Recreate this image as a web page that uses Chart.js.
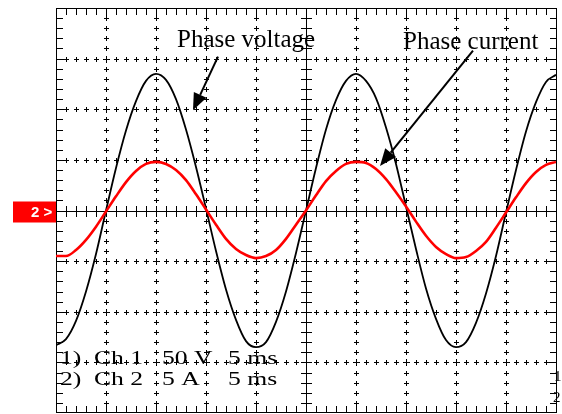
<!DOCTYPE html>
<html>
<head>
<meta charset="utf-8">
<script src="https://cdn.jsdelivr.net/npm/chart.js@4.4.1/dist/chart.umd.min.js"></script>
<style>
  html, body { margin: 0; padding: 0; background: #fff; }
  #scope { display: block; }
</style>
</head>
<body>
<canvas id="scope" width="562" height="414"></canvas>
<script>
// time base: 5 ms / div, 10 div on screen
const timeMs = [0, 1, 2, 3, 4, 5, 6, 7, 8, 9, 10, 11, 12, 13, 14, 15, 16, 17, 18, 19, 20,
    21, 22, 23, 24, 25, 26, 27, 28, 29, 30, 31, 32, 33, 34, 35, 36, 37, 38, 39, 40,
    41, 42, 43, 44, 45, 46, 47, 48, 49, 50];

// Ch 1 - phase voltage (50 V / div)
const phaseVoltage = [-133, -127, -109, -80, -43, 0, 42, 79, 108, 128, 135,
    129, 110, 80, 43, 2, -40, -78, -108, -129, -135,
    -130, -110, -80, -42, 0, 42, 80, 109, 128, 135,
    128, 111, 82, 46, 4, -38, -77, -107, -128, -135,
    -130, -111, -82, -45, -2, 40, 78, 107, 127, 134];

// Ch 2 - phase current (5 A / div)
const phaseCurrent = [-4.5, -4.5, -3.9, -2.9, -1.6, -0.1, 1.4, 2.8, 3.9, 4.6, 4.8,
    4.6, 4.0, 3.0, 1.6, 0.1, -1.4, -2.8, -3.8, -4.4, -4.7,
    -4.5, -3.9, -2.8, -1.4, 0.0, 1.5, 2.9, 3.9, 4.6, 4.8,
    4.7, 4.1, 3.1, 1.8, 0.4, -1.1, -2.5, -3.6, -4.3, -4.7,
    -4.6, -4.0, -3.1, -1.7, -0.2, 1.3, 2.7, 3.8, 4.5, 4.8];

const channelLines = [
    ['1)', 'Ch 1', '50 V', '5 ms'],
    ['2)', 'Ch 2', '5 A', '5 ms']
];

function toPoints(values) {
    return timeMs.map(function (t, i) { return { x: t, y: values[i] }; });
}

function cross(ctx, x, y, r) {
    x = Math.round(x); y = Math.round(y);
    ctx.fillRect(x - r, y, 2 * r + 1, 1);
    ctx.fillRect(x, y - r, 1, 2 * r + 1);
}

// scope graticule: dotted major lines, centre axes with ticks, framed border
const graticule = {
    id: 'graticule',
    beforeDatasetsDraw(chart) {
        const ctx = chart.ctx;
        const a = chart.chartArea;
        const xs = chart.scales.x, ys = chart.scales.y;
        ctx.save();
        ctx.fillStyle = '#000';
        for (let t = 5; t < 50; t += 5) {
            if (t === 25) continue;
            const px = xs.getPixelForValue(t);
            for (let v = -190; v < 200; v += 10) {
                cross(ctx, px, ys.getPixelForValue(v), v % 50 === 0 ? 3 : 2);
            }
        }
        for (let v = -150; v <= 150; v += 50) {
            if (v === 0) continue;
            const py = ys.getPixelForValue(v);
            for (let t = 1; t < 50; t++) {
                cross(ctx, xs.getPixelForValue(t), py, t % 5 === 0 ? 3 : 2);
            }
        }
        // centre axes
        const cx = Math.round(xs.getPixelForValue(25));
        const cy = Math.round(ys.getPixelForValue(0));
        ctx.fillRect(a.left, cy, a.right - a.left, 1);
        ctx.fillRect(cx, a.top, 1, a.bottom - a.top);
        for (let t = 1; t < 50; t++) {
            ctx.fillRect(Math.round(xs.getPixelForValue(t)), cy - 5, 1, 11);
        }
        for (let v = -190; v < 200; v += 10) {
            ctx.fillRect(cx - 5, Math.round(ys.getPixelForValue(v)), 11, 1);
        }
        // border + inward ticks
        ctx.fillRect(a.left, a.top, a.right - a.left + 1, 1);
        ctx.fillRect(a.left, a.bottom - 1, a.right - a.left + 1, 1);
        ctx.fillRect(a.left, a.top, 1, a.bottom - a.top);
        ctx.fillRect(a.right, a.top, 1, a.bottom - a.top);
        for (let t = 1; t < 50; t++) {
            const px = Math.round(xs.getPixelForValue(t));
            const len = t % 5 === 0 ? 11 : 7;
            ctx.fillRect(px, a.top, 1, len);
            ctx.fillRect(px, a.bottom - len, 1, len);
        }
        for (let v = -190; v < 200; v += 10) {
            const py = Math.round(ys.getPixelForValue(v));
            const len = v % 50 === 0 ? 10 : 7;
            ctx.fillRect(a.left, py, len, 1);
            ctx.fillRect(a.right - len + 1, py, len, 1);
        }
        ctx.restore();
    }
};

function arrow(ctx, x1, y1, x2, y2) {
    const ang = Math.atan2(y2 - y1, x2 - x1);
    const len = 17, half = 7;
    const bx = x2 - len * Math.cos(ang), by = y2 - len * Math.sin(ang);
    ctx.beginPath();
    ctx.moveTo(x1, y1);
    ctx.lineTo(bx, by);
    ctx.stroke();
    ctx.beginPath();
    ctx.moveTo(x2, y2);
    ctx.lineTo(bx - half * Math.sin(ang), by + half * Math.cos(ang));
    ctx.lineTo(bx + half * Math.sin(ang), by - half * Math.cos(ang));
    ctx.closePath();
    ctx.fill();
}

// text labels, arrows and channel markers
const annotations = {
    id: 'annotations',
    afterDatasetsDraw(chart) {
        const ctx = chart.ctx;
        const xs = chart.scales.x, ys = chart.scales.y;
        const X = function (t) { return xs.getPixelForValue(t); };
        const Y = function (v) { return ys.getPixelForValue(v); };
        ctx.save();
        ctx.fillStyle = '#000';
        ctx.strokeStyle = '#000';
        ctx.lineWidth = 2;
        ctx.font = '25px "Liberation Serif", "Times New Roman", serif';
        ctx.textBaseline = 'alphabetic';
        ctx.textAlign = 'left';
        ctx.fillText('Phase voltage', X(12.1), Y(161));
        ctx.fillText('Phase current', X(34.7), Y(160));
        arrow(ctx, X(16.2), Y(152), X(13.7), Y(99));
        arrow(ctx, X(41.7), Y(158), X(32.4), Y(44));

        // channel settings, stretched like the scope print
        const cols = [0.4, 3.8, 10.6, 17.2];
        const rowsV = [-152, -172];
        ctx.font = '19px "Liberation Serif", "Times New Roman", serif';
        channelLines.forEach(function (row, r) {
            row.forEach(function (txt, c) {
                ctx.save();
                ctx.translate(X(cols[c]), Y(rowsV[r]));
                ctx.scale(1.35, 1);
                ctx.fillText(txt, 0, 0);
                ctx.restore();
            });
        });

        // right edge channel numbers
        ctx.font = '15px "Liberation Serif", "Times New Roman", serif';
        ctx.fillText('1', X(49.8), Y(-168));
        ctx.fillText('2', X(49.7), Y(-189));

        // ch 2 ground marker
        const gy = Y(0);
        ctx.fillStyle = '#ff0000';
        ctx.fillRect(13, gy - 9, chart.chartArea.left - 13, 21);
        ctx.fillStyle = '#fff';
        ctx.font = 'bold 15px "Liberation Sans", Arial, sans-serif';
        ctx.textBaseline = 'middle';
        ctx.fillText('2 >', 31, gy + 2);
        ctx.restore();
    }
};

new Chart(document.getElementById('scope'), {
    type: 'line',
    data: {
        datasets: [{
            label: 'Phase current',
            data: toPoints(phaseCurrent),
            yAxisID: 'y1',
            borderColor: '#ff0000',
            borderWidth: 2.6,
            pointRadius: 0,
            cubicInterpolationMode: 'monotone',
            order: 0
        }, {
            label: 'Phase voltage',
            data: toPoints(phaseVoltage),
            yAxisID: 'y',
            borderColor: '#000000',
            borderWidth: 1.8,
            pointRadius: 0,
            cubicInterpolationMode: 'monotone',
            order: 1
        }]
    },
    options: {
        responsive: false,
        animation: false,
        layout: { padding: { left: 56, top: 8, right: 6, bottom: 1 } },
        scales: {
            x: { type: 'linear', min: 0, max: 50, display: false },
            y: { min: -200, max: 200, display: false },
            y1: { min: -20, max: 20, display: false }
        },
        plugins: {
            legend: { display: false },
            tooltip: { enabled: false }
        }
    },
    plugins: [graticule, annotations]
});
</script>
</body>
</html>
